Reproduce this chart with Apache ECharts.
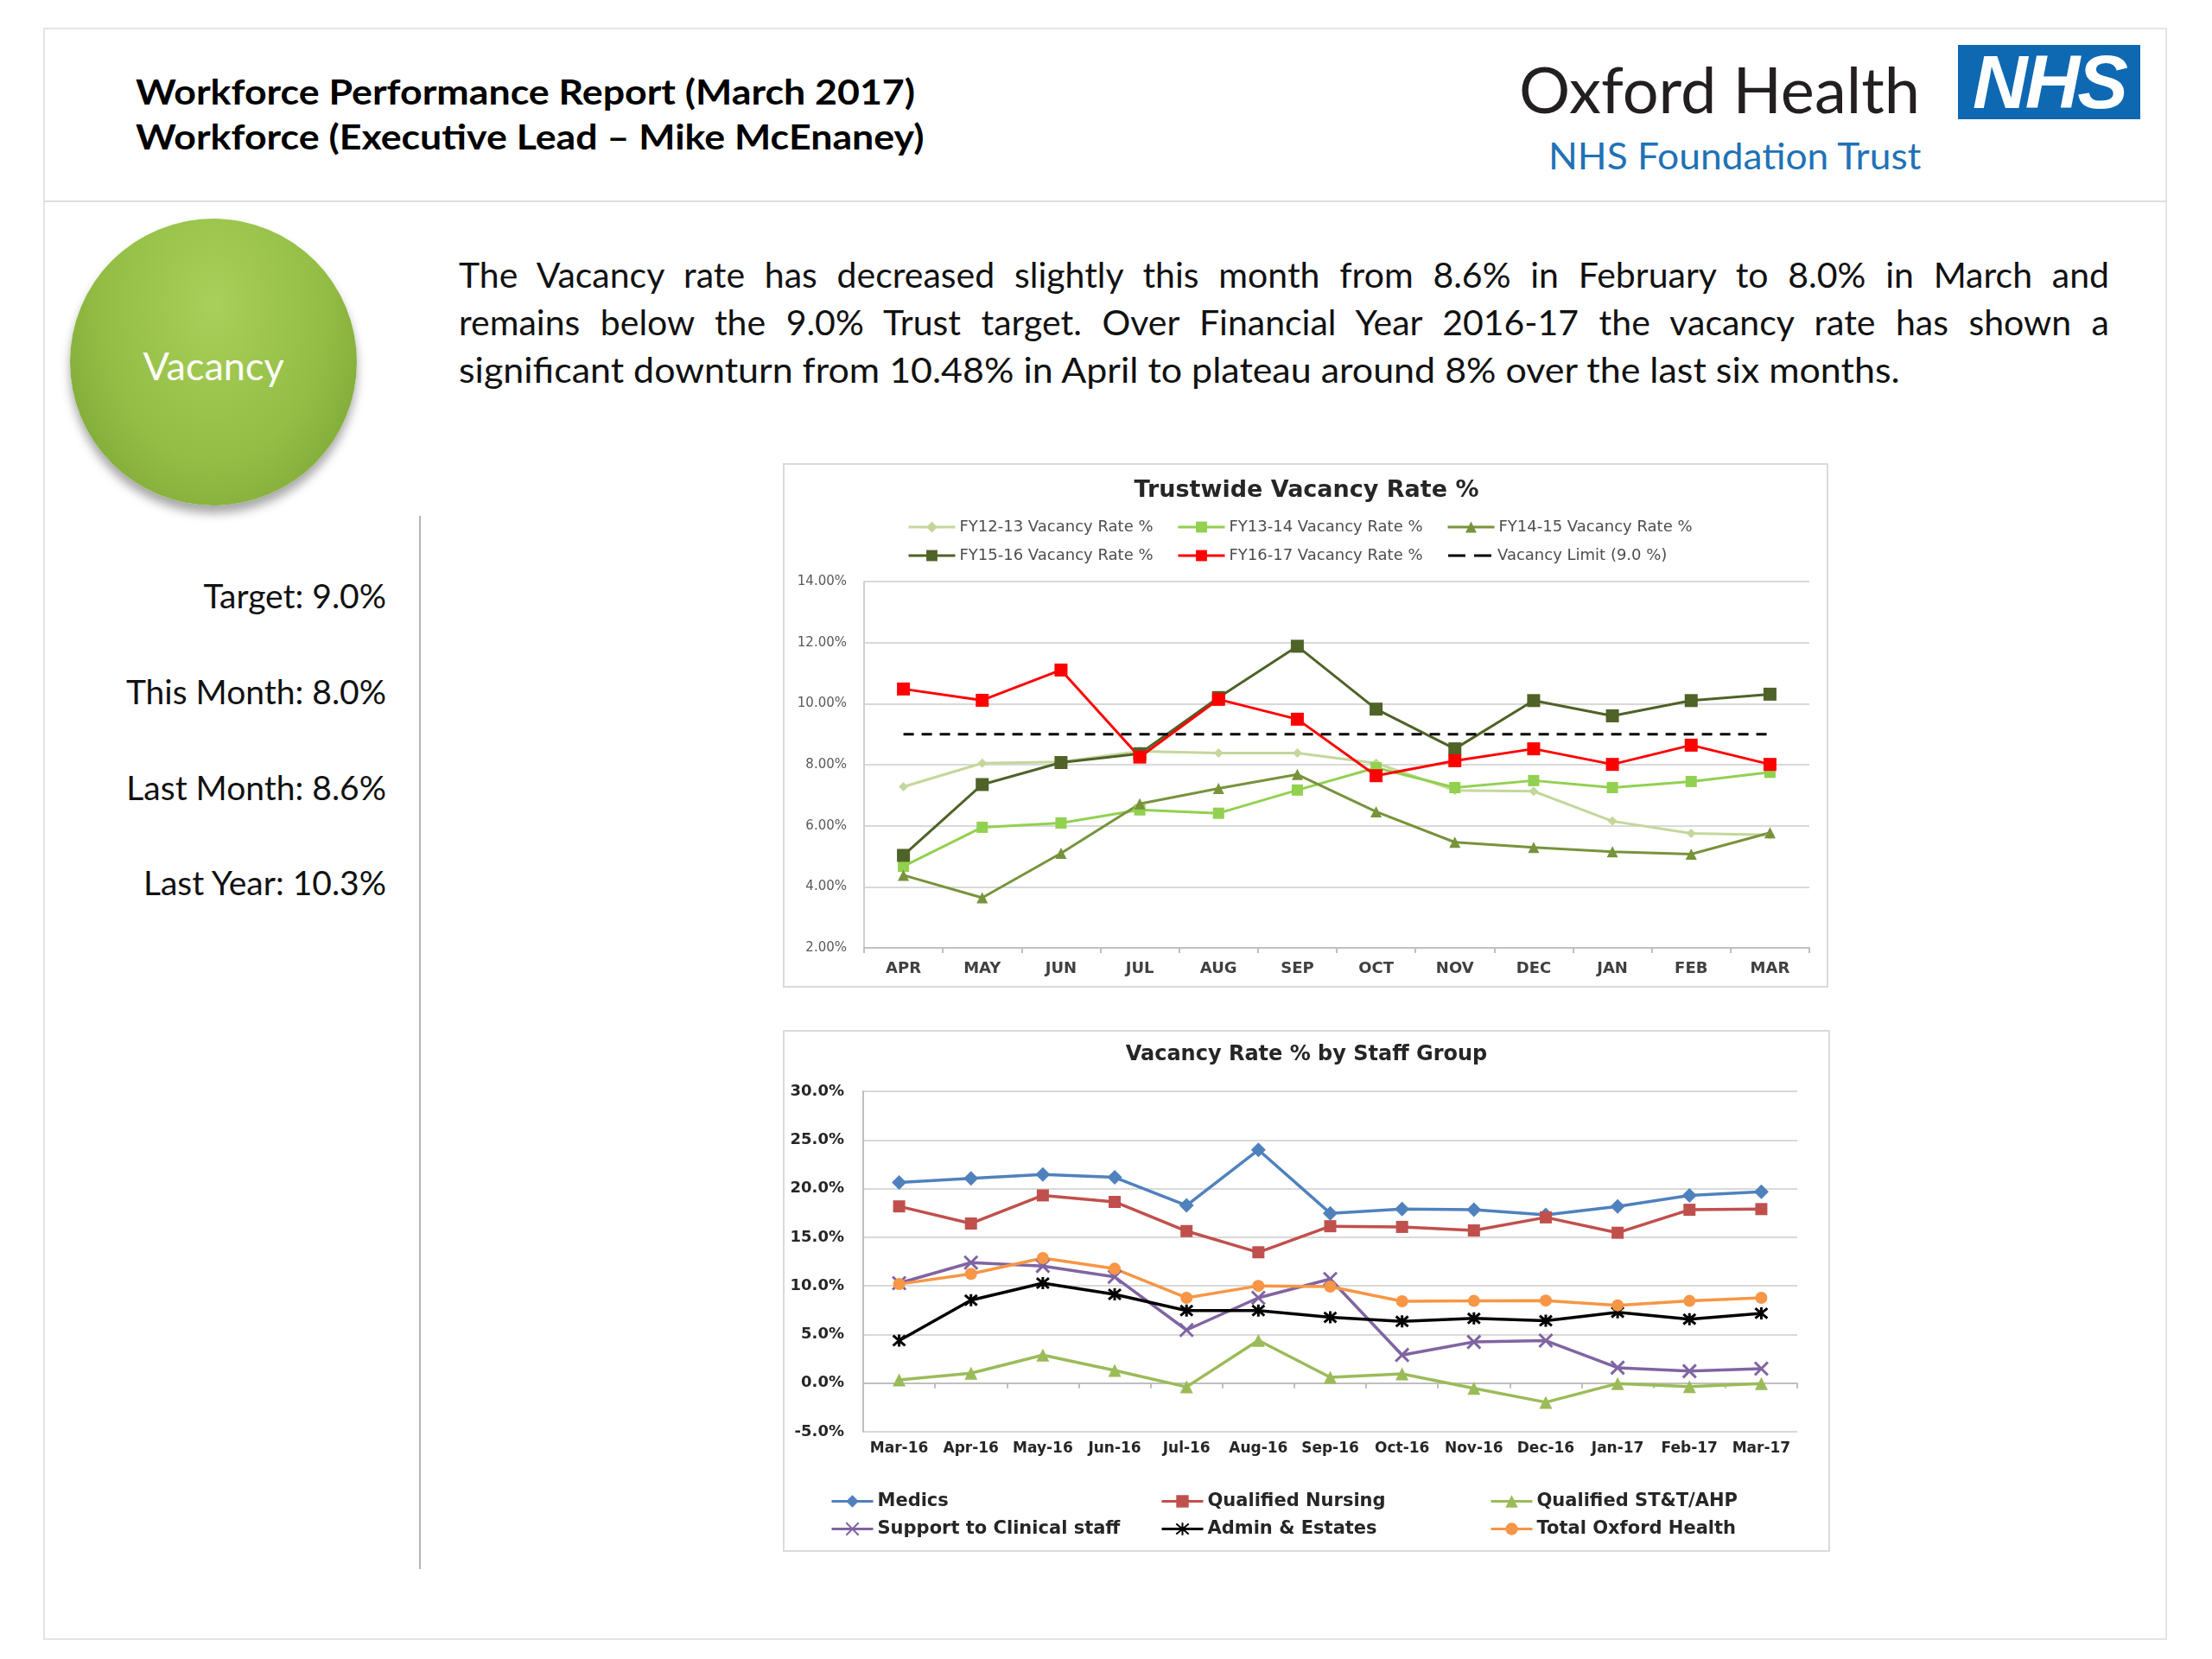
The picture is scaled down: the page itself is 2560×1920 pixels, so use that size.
<!DOCTYPE html>
<html>
<head>
<meta charset="utf-8">
<script src="https://cdn.jsdelivr.net/npm/echarts@6/dist/echarts.min.js"></script>
<style>
  html, body { margin:0; padding:0; background:#fff; }
  body { width:2560px; height:1920px; position:relative; overflow:hidden; font-family:'Lato', sans-serif; color:#111; }
  .abs { position:absolute; }
  .frame { left:50px; top:32px; width:2458px; height:1866px; border:2px solid #e4e4e4; box-sizing:border-box; }
  .hsep { left:50px; top:232px; width:2458px; height:0; border-top:2px solid #dedede; }
  .ttl { left:157px; font-weight:700; font-size:41px; line-height:41px; white-space:nowrap; color:#000;
         transform:scaleX(1.09); transform-origin:left center; }
  .oxf { left:1758px; top:66px; font-size:74px; line-height:74px; white-space:nowrap; color:#231f20; }
  .nhs { left:2266px; top:52px; width:211px; height:86px; background:#0f68b2; color:#fff;
         font-family:'Liberation Sans', Arial, sans-serif; font-weight:700; font-style:italic;
         font-size:88px; line-height:86px; text-align:center; letter-spacing:-3px; }
  .nft { left:1792px; top:158px; font-size:43px; line-height:43px; white-space:nowrap; color:#1f72b6;
         transform:scaleX(1.03); transform-origin:left center; }
  .circle { left:81px; top:253px; width:332px; height:332px; border-radius:50%;
            background: radial-gradient(ellipse at 50% 30%, #a9d05a 0%, #93bd44 55%, #76a033 100%);
            box-shadow: 0 9px 12px rgba(0,0,0,0.35); }
  .circle span { position:absolute; left:0; width:332px; top:148px; text-align:center; color:#fff; font-size:45px; line-height:45px; }
  .para { left:531px; width:1910px; font-size:41px; line-height:55px; color:#111; white-space:nowrap; }
  .just { text-align:justify; text-align-last:justify; white-space:normal; }
  .last { transform:scaleX(1.048); transform-origin:left center; }
  .stat { left:0; width:447px; text-align:right; font-size:39px; line-height:39px; color:#111; white-space:nowrap; }
  .vline { left:485px; top:597px; width:2px; height:1219px; background:#b4b4b4; }
  .box { border:2px solid #dadada; box-sizing:border-box; background:#fff; }
  #chart { position:absolute; left:0; top:0; width:2560px; height:1920px; }
</style>
</head>
<body>
<div class="abs frame"></div>
<div class="abs hsep"></div>
<div class="abs ttl" style="top:85px;">Workforce Performance Report (March 2017)</div>
<div class="abs ttl" style="top:137px;">Workforce (Executive Lead – Mike McEnaney)</div>
<div class="abs oxf">Oxford Health</div>
<div class="abs nhs">NHS</div>
<div class="abs nft">NHS Foundation Trust</div>

<div class="abs circle"><span>Vacancy</span></div>

<div class="abs para just" style="top:290px;">The Vacancy rate has decreased slightly this month from 8.6% in February to 8.0% in March and</div>
<div class="abs para just" style="top:345px;">remains below the 9.0% Trust target. Over Financial Year 2016-17 the vacancy rate has shown a</div>
<div class="abs para last" style="top:400px;">significant downturn from 10.48% in April to plateau around 8% over the last six months.</div>

<div class="abs stat" style="top:670px;">Target: 9.0%</div>
<div class="abs stat" style="top:781px;">This Month: 8.0%</div>
<div class="abs stat" style="top:892px;">Last Month: 8.6%</div>
<div class="abs stat" style="top:1002px;">Last Year: 10.3%</div>
<div class="abs vline"></div>

<div class="abs box" style="left:906px; top:536px; width:1210px; height:607px;"></div>
<div class="abs box" style="left:906px; top:1192px; width:1212px; height:604px;"></div>

<div id="chart"></div>

<script>
// ---------- Chart 1: Trustwide Vacancy Rate % ----------
const months = ['APR','MAY','JUN','JUL','AUG','SEP','OCT','NOV','DEC','JAN','FEB','MAR'];
const fy1213 = [7.28, 8.05, 8.09, 8.44, 8.38, 8.38, 8.05, 7.16, 7.13, 6.15, 5.75, 5.70];
const fy1314 = [4.67, 5.95, 6.09, 6.52, 6.41, 7.17, 7.90, 7.25, 7.48, 7.25, 7.45, 7.75];
const fy1415 = [4.38, 3.64, 5.10, 6.72, 7.22, 7.68, 6.46, 5.46, 5.29, 5.15, 5.07, 5.77];
const fy1516 = [5.03, 7.35, 8.07, 8.36, 10.20, 11.88, 9.82, 8.52, 10.10, 9.60, 10.10, 10.31];
const fy1617 = [10.48, 10.11, 11.10, 8.25, 10.14, 9.49, 7.64, 8.13, 8.52, 8.01, 8.64, 8.01];
const vacancyLimit = [9.0, 9.0, 9.0, 9.0, 9.0, 9.0, 9.0, 9.0, 9.0, 9.0, 9.0, 9.0];
const chart1Ticks = [2, 14, 2]; // min, max, interval

// ---------- Chart 2: Vacancy Rate % by Staff Group ----------
const staffMonths = ['Mar-16','Apr-16','May-16','Jun-16','Jul-16','Aug-16','Sep-16','Oct-16','Nov-16','Dec-16','Jan-17','Feb-17','Mar-17'];
const medics        = [20.63, 21.06, 21.44, 21.16, 18.27, 23.98, 17.46, 17.89, 17.82, 17.29, 18.17, 19.30, 19.68];
const qualNursing   = [18.17, 16.41, 19.30, 18.63, 15.63, 13.45, 16.13, 16.06, 15.70, 17.04, 15.46, 17.82, 17.89];
const qualSTT       = [0.32, 1.02, 2.89, 1.30, -0.39, 4.40, 0.60, 0.95, -0.53, -1.97, -0.04, -0.35, -0.04];
const supportClin   = [10.28, 12.39, 12.04, 10.92, 5.46, 8.77, 10.70, 2.89, 4.23, 4.37, 1.58, 1.23, 1.48];
const adminEstates  = [4.37, 8.52, 10.28, 9.12, 7.46, 7.46, 6.76, 6.34, 6.65, 6.41, 7.29, 6.58, 7.18];
const totalOxford   = [10.18, 11.23, 12.85, 11.76, 8.77, 10.00, 9.93, 8.42, 8.45, 8.49, 8.00, 8.45, 8.77];
const chart2Ticks = [-5, 30, 5];

const s1Names = ['FY12-13 Vacancy Rate %','FY13-14 Vacancy Rate %','FY14-15 Vacancy Rate %','FY15-16 Vacancy Rate %','FY16-17 Vacancy Rate %','Vacancy Limit (9.0 %)'];
const s2Names = ['Medics','Qualified Nursing','Qualified ST&T/AHP','Support to Clinical staff','Admin & Estates','Total Oxford Health'];

const F1 = 'DejaVu Sans';
const xPath = 'path://M0,0L10,10M10,0L0,10';
const starPath = 'path://M0,0L10,10M10,0L0,10M5,-1L5,11';
const dashIcon = 'path://M0,0h0.01v0.01h-0.01z M2,6.5h20v3h-20z M32,6.5h20v3h-20z M53.99,15.99h0.01v0.01h-0.01z';

function line1(name, data, color, symbol, size, extra) {
  return Object.assign({
    name, type:'line', xAxisIndex:0, yAxisIndex:0, data,
    symbol, symbolSize:size, showAllSymbol:true,
    lineStyle:{ color, width:3 },
    itemStyle:{ color },
    emphasis:{ disabled:true }
  }, extra || {});
}
function line2(name, data, color, symbol, size, stroke) {
  const s = {
    name, type:'line', xAxisIndex:1, yAxisIndex:1, data,
    symbol, symbolSize:size, showAllSymbol:true,
    lineStyle:{ color, width:3.5 },
    itemStyle:{ color },
    emphasis:{ disabled:true }
  };
  if (stroke) s.itemStyle = { color:'rgba(0,0,0,0)', borderColor:color, borderWidth:3 };
  return s;
}

const leg1Pos = [[1050,601],[1362,601],[1674,601],[1050,634],[1362,634],[1674,634]];
const leg2Pos = [[961,1727],[1343,1727],[1724,1727],[961,1759],[1343,1759],[1724,1759]];
const legends = [];
s1Names.forEach((n, i) => {
  legends.push({
    data:[ i === 5 ? { name:n, icon:dashIcon } : n ],
    left:leg1Pos[i][0], top:leg1Pos[i][1], padding:0, itemWidth:54, itemHeight:16,
    lineStyle:{ width:3 },
    textStyle:{ fontFamily:F1, fontSize:18, color:'#4d4d4d' }
  });
});
s2Names.forEach((n, i) => {
  legends.push({
    data:[n], left:leg2Pos[i][0], top:leg2Pos[i][1], padding:0, itemWidth:48, itemHeight:18,
    lineStyle:{ width:3 },
    textStyle:{ fontFamily:F1, fontWeight:'bold', fontSize:21, color:'#262626' }
  });
});

const chart = echarts.init(document.getElementById('chart'), null, { renderer:'canvas' });
chart.setOption({
  animation:false,
  backgroundColor:'transparent',
  title:[
    { text:'Trustwide Vacancy Rate %', left:1512, top:554, textAlign:'center', padding:0,
      textStyle:{ fontFamily:F1, fontWeight:'bold', fontSize:27, color:'#262626' } },
    { text:'Vacancy Rate % by Staff Group', left:1512, top:1209, textAlign:'center', padding:0,
      textStyle:{ fontFamily:F1, fontWeight:'bold', fontSize:24, color:'#262626' } }
  ],
  legend:legends,
  grid:[
    { left:1000, top:673, width:1094, height:424, containLabel:false },
    { left:999, top:1263, width:1081, height:394, containLabel:false }
  ],
  xAxis:[
    { type:'category', gridIndex:0, data:months, boundaryGap:true,
      axisLine:{ show:true, lineStyle:{ color:'#bfbfbf', width:2 } },
      axisTick:{ show:true, length:6, lineStyle:{ color:'#bfbfbf', width:2 } },
      axisLabel:{ fontFamily:F1, fontWeight:'bold', fontSize:18, color:'#404040', margin:15, interval:0 },
      splitLine:{ show:false } },
    { type:'category', gridIndex:1, data:staffMonths, boundaryGap:true, position:'bottom',
      axisLine:{ show:false, onZero:false },
      axisTick:{ show:false },
      axisLabel:{ fontFamily:F1, fontWeight:'bold', fontSize:17, color:'#262626', margin:11, interval:0 },
      splitLine:{ show:false } },
    { type:'category', gridIndex:1, data:staffMonths, boundaryGap:true, position:'bottom',
      axisLine:{ show:true, onZero:true, lineStyle:{ color:'#bfbfbf', width:2 } },
      axisTick:{ show:true, length:6, interval:0, lineStyle:{ color:'#bfbfbf', width:2 } },
      axisLabel:{ show:false },
      splitLine:{ show:false } }
  ],
  yAxis:[
    { type:'value', gridIndex:0, min:chart1Ticks[0], max:chart1Ticks[1], interval:chart1Ticks[2],
      axisLine:{ show:true, lineStyle:{ color:'#cfcfcf', width:2 } },
      axisTick:{ show:false },
      axisLabel:{ fontFamily:F1, fontSize:15, color:'#595959', margin:20, formatter:v => v.toFixed(2) + '%' },
      splitLine:{ show:true, lineStyle:{ color:'#d9d9d9', width:2 } } },
    { type:'value', gridIndex:1, min:chart2Ticks[0], max:chart2Ticks[1], interval:chart2Ticks[2],
      axisLine:{ show:true, lineStyle:{ color:'#bfbfbf', width:2 } },
      axisTick:{ show:false },
      axisLabel:{ fontFamily:F1, fontWeight:'bold', fontSize:18, color:'#262626', margin:22, formatter:v => v.toFixed(1) + '%' },
      splitLine:{ show:true, lineStyle:{ color:'#d9d9d9', width:2 } } }
  ],
  series:[
    line1(s1Names[0], fy1213, '#c4d79b', 'diamond', 11),
    line1(s1Names[1], fy1314, '#92d050', 'rect', 13),
    line1(s1Names[2], fy1415, '#77933c', 'triangle', 13),
    line1(s1Names[3], fy1516, '#4f6228', 'rect', 15),
    line1(s1Names[4], fy1617, '#ff0000', 'rect', 15),
    line1(s1Names[5], vacancyLimit, '#000000', 'none', 0, { lineStyle:{ color:'#000', width:3, type:[12,9] } }),
    line2(s2Names[0], medics, '#4f81bd', 'diamond', 17),
    line2(s2Names[1], qualNursing, '#c0504d', 'rect', 14),
    line2(s2Names[2], qualSTT, '#9bbb59', 'triangle', 15),
    line2(s2Names[3], supportClin, '#8064a2', xPath, 15, true),
    line2(s2Names[4], adminEstates, '#000000', starPath, 14, true),
    line2(s2Names[5], totalOxford, '#f79646', 'circle', 14)
  ]
});
</script>
</body>
</html>
